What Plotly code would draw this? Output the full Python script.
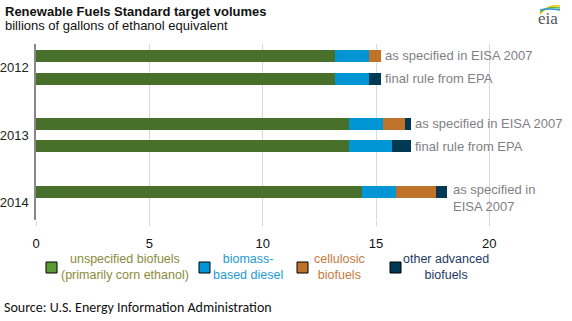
import plotly.graph_objects as go

# ---------------- data ----------------
years = ["2012", "2013", "2014"]
row_labels = ["as specified in EISA 2007", "final rule from EPA",
              "as specified in EISA 2007", "final rule from EPA",
              "as specified in<br>EISA 2007"]
unspecified = [13.2, 13.2, 13.8, 13.8, 14.4]
biomass = [1.5, 1.5, 1.5, 1.92, 1.5]
cellulosic = [0.5, 0.0, 1.0, 0.0, 1.75]
other = [0.0, 0.5, 0.25, 0.83, 0.5]
series_names = ["unspecified biofuels<br>(primarily corn ethanol)",
                "biomass-<br>based diesel", "cellulosic<br>biofuels",
                "other advanced<br>biofuels"]
x_ticks = [0, 5, 10, 15, 20]

# ---------------- layout constants ----------------
W, H = 572, 321
ML, MR, MT, MB = 36, 26, 44, 101
row_slots = [0, 1, 3, 4, 6]
year_slots = [0.5, 3.5, 6.5]
bar_colors = ["#48702A", "#0096D6", "#BF722A", "#003953"]
swatch_colors = ["#5B9A32", "#0096D6", "#BF722A", "#003953"]
legend_text_colors = ["#8A8C3A", "#1E9AD6", "#C47A3C", "#1F3A5F"]

pw = W - ML - MR
ph = H - MT - MB


def px(x):
    return (x - ML) / pw


def py(y):
    return (H - MB - y) / ph


fig = go.Figure()
for vals, col in zip([unspecified, biomass, cellulosic, other], bar_colors):
    fig.add_trace(go.Bar(x=vals, y=row_slots, orientation="h",
                         marker=dict(color=col, line=dict(width=0)),
                         width=0.53, showlegend=False))

annotations = []
totals = [a + b + c + d for a, b, c, d in zip(unspecified, biomass, cellulosic, other)]
for i, (t, s, lab) in enumerate(zip(totals, row_slots, row_labels)):
    two = "<br>" in lab
    annotations.append(dict(x=t, y=s, xref="x", yref="y", text=lab, showarrow=False,
                            xanchor="left", yanchor="middle", xshift=2 if not two else 4,
                            yshift=-6 if two else 0, align="left",
                            font=dict(family="Liberation Sans", size=13, color="#7F7F86")))

# title / subtitle
annotations.append(dict(x=px(3), y=py(11), xref="paper", yref="paper",
                        text="<b>Renewable Fuels Standard target volumes</b>",
                        showarrow=False, xanchor="left", yanchor="middle",
                        font=dict(family="Liberation Sans", size=13, color="#111")))
annotations.append(dict(x=px(3), y=py(26), xref="paper", yref="paper",
                        text="billions of gallons of ethanol equivalent",
                        showarrow=False, xanchor="left", yanchor="middle",
                        font=dict(family="Liberation Sans", size=13, color="#111")))
# source
annotations.append(dict(x=px(2), y=py(307), xref="paper", yref="paper",
                        text="Source: U.S. Energy Information Administration",
                        showarrow=False, xanchor="left", yanchor="middle",
                        font=dict(family="Carlito, Open Sans", size=14, color="#111")))
# eia logo text
annotations.append(dict(x=px(548), y=py(19), xref="paper", yref="paper",
                        text="eia", showarrow=False, xanchor="center", yanchor="middle",
                        font=dict(family="Liberation Serif", size=17, color="#555")))

shapes = []
# logo arcs
for col, dy in zip(["#F2C500", "#6CB33F", "#2A9BD8"], [0, 2, 4]):
    shapes.append(dict(type="path", xref="paper", yref="paper",
                       path=f"M {px(540)},{py(14 - dy)} Q {px(548)},{py(4 + dy)} {px(560)},{py(6 + dy)}",
                       line=dict(color=col, width=1.5)))

# custom legend
sw_x = [46, 199, 297, 390]
txt_x = [125, 248, 339, 446]
for i in range(4):
    shapes.append(dict(type="rect", xref="paper", yref="paper",
                       x0=px(sw_x[i]), x1=px(sw_x[i] + 11), y0=py(262), y1=py(273),
                       fillcolor=swatch_colors[i], line=dict(color="#000", width=1)))
    annotations.append(dict(x=px(txt_x[i]), y=py(267), xref="paper", yref="paper",
                            text=series_names[i], showarrow=False, xanchor="center",
                            yanchor="middle", align="center",
                            font=dict(family="Liberation Sans", size=12.5,
                                      color=legend_text_colors[i])))

fig.update_layout(
    width=W, height=H, barmode="stack",
    margin=dict(l=ML, r=MR, t=MT, b=MB, pad=0, autoexpand=False),
    paper_bgcolor="white", plot_bgcolor="white",
    annotations=annotations, shapes=shapes,
    xaxis=dict(range=[0, 22.5], tickvals=x_ticks, showgrid=True, gridcolor="#D9D9D9",
               gridwidth=1, zeroline=False, showline=False, ticks="outside", ticklen=5,
               tickcolor="#D9D9D9", ticklabelstandoff=6, automargin=False,
               tickfont=dict(family="Liberation Sans", size=13, color="#111")),
    yaxis=dict(range=[7.26, -0.53], tickvals=year_slots, ticktext=years, showgrid=False,
               zeroline=False, showline=True, linecolor="#888", linewidth=1.5, ticks="",
               automargin=False, ticklabelstandoff=3,
               tickfont=dict(family="Liberation Sans", size=13, color="#222")),
    bargap=0,
)

fig.write_html("out.html")
